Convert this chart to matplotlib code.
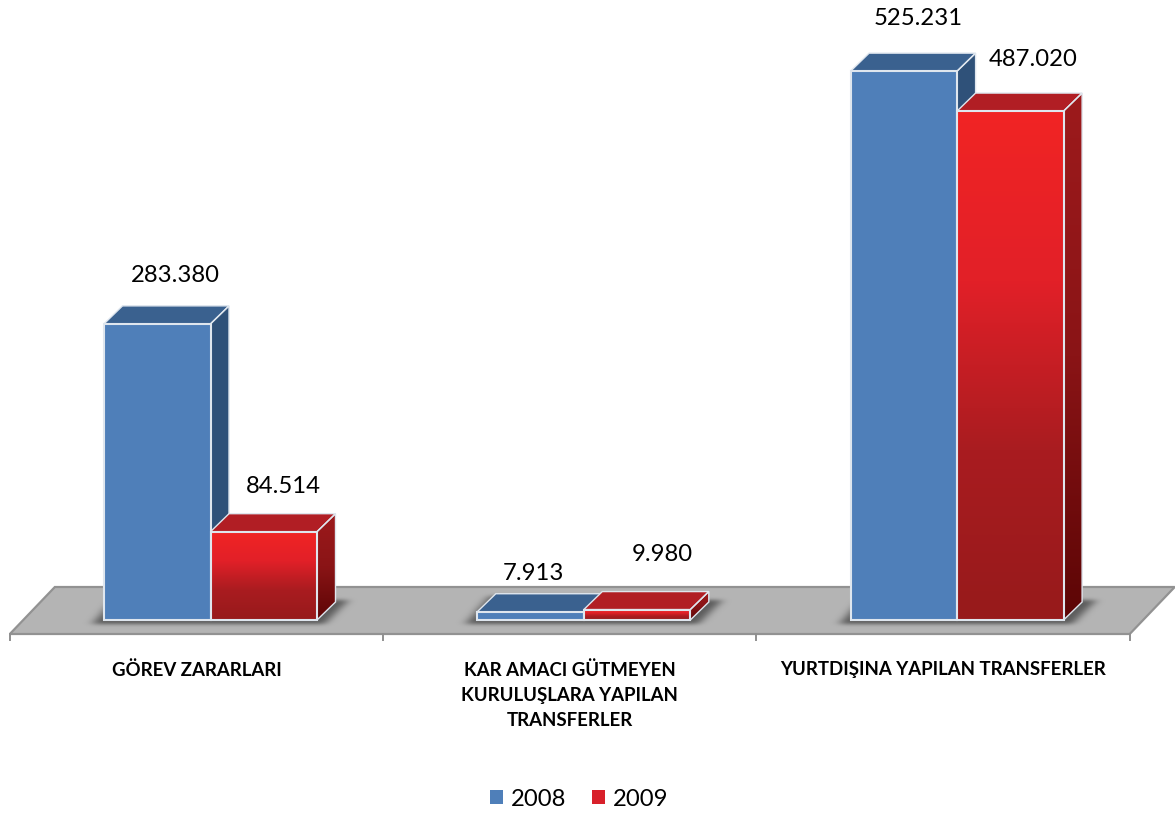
import numpy as np
import matplotlib
matplotlib.use("Agg")
import matplotlib.pyplot as plt
from matplotlib.patches import Polygon, Patch
from matplotlib.path import Path
from matplotlib.colors import LinearSegmentedColormap

categories = ["GÖREV ZARARLARI", "KAR AMACI GÜTMEYEN\nKURULUŞLARA YAPILAN\nTRANSFERLER",
              "YURTDIŞINA YAPILAN TRANSFERLER"]
series_names = ["2008", "2009"]
values_2008 = [283380, 7913, 525231]
values_2009 = [84514, 9980, 487020]
labels_2008 = ["283.380", "7.913", "525.231"]
labels_2009 = ["84.514", "9.980", "487.020"]
label_off_2008 = [(18, 48), (3, 38), (14, 53)]
label_off_2009 = [(20, 45), (25, 55), (23, 52)]

W, H = 1175, 814
PX_X = 373.3      # pixels per category
PX_Y = 1.045e-3   # pixels per value unit
X0, Y0 = 210.5, 620

plt.rcParams['font.family'] = ['Lato', 'DejaVu Sans']
fig = plt.figure(figsize=(W / 100, H / 100), dpi=100)
ax = fig.add_axes([0, 0, 1, 1])
ax.axis('off')
xlim = (-X0 / PX_X, (W - X0) / PX_X)
ylim = ((Y0 - H) / PX_Y, Y0 / PX_Y)

DX, DY = 18.5 / PX_X, 18 / PX_Y      # depth of the bars
BW = 106.5 / PX_X                    # bar width
EDGE = '#dfe6ee'

blue_front, blue_top, blue_side = '#4f7fb9', '#3a618f', '#2f5179'
red_top = '#b11e24'
red_front = LinearSegmentedColormap.from_list('rf', ['#f12424', '#e22028', '#a91c20', '#971a1b'])
red_side = LinearSegmentedColormap.from_list('rs', ['#9d1a1c', '#8a1416', '#5c0505'])


def grad(cmap, poly, x0, x1, y0, y1, z):
    g = np.linspace(0, 1, 256)[:, None]
    p = Polygon(poly, closed=True, transform=ax.transData, fc='none', ec='none')
    ax.add_patch(p)
    im = ax.imshow(g, cmap=cmap, aspect='auto', extent=(x0, x1, y0, y1), origin='upper',
                   zorder=z, interpolation='bilinear')
    im.set_clip_path(p)


def outline(poly, z, lw=1.4):
    ax.add_patch(Polygon(poly, closed=True, fc='none', ec=EDGE, lw=lw, zorder=z, joinstyle='miter'))


def bar(x, v, kind, z):
    l, r = x, x + BW
    front = [(l, 0), (r, 0), (r, v), (l, v)]
    top = [(l, v), (r, v), (r + DX, v + DY), (l + DX, v + DY)]
    side = [(r, 0), (r + DX, DY), (r + DX, v + DY), (r, v)]
    if kind == 0:
        ax.add_patch(Polygon(side, fc=blue_side, ec='none', zorder=z))
        ax.add_patch(Polygon(top, fc=blue_top, ec='none', zorder=z))
        ax.add_patch(Polygon(front, fc=blue_front, ec='none', zorder=z + .2))
    else:
        grad(red_side, side, r, r + DX, 0, v + DY, z)
        ax.add_patch(Polygon(top, fc=red_top, ec='none', zorder=z))
        grad(red_front, front, l, r, 0, v, z + .2)
    outline(side, z + .1, 1.0)
    outline(top, z + .1, 1.0)
    outline(front, z + .3, 1.5)


# floor
fl, fr = -0.5 - 14 / PX_X, 2.5 - 14 / PX_X
fy0, fy1 = -14 / PX_Y, 33 / PX_Y
fdx = 45 / PX_X
floor = Polygon([(fl, fy0), (fr, fy0), (fr + fdx, fy1), (fl + fdx, fy1)], closed=True,
                fc='#b4b4b4', ec='#929292', lw=1.6, zorder=1)
ax.add_patch(floor)
for k in range(4):
    ax.plot([fl + k, fl + k], [fy0, fy0 - 6 / PX_Y], color='#8f8f8f', lw=1.4, zorder=1)


# soft shadow on the floor beneath each bar pair
def shadow(x):
    l, r = x - BW, x + BW
    xs = np.linspace(l - 45 / PX_X, r + 60 / PX_X, 240)
    ys = np.linspace(-12 / PX_Y, 36 / PX_Y, 96)
    XX, YY = np.meshgrid(xs, ys)
    poly = Path([(l - 12 / PX_X, -4 / PX_Y), (r + 8 / PX_X, -4 / PX_Y),
                 (r + 32 / PX_X, 20 / PX_Y), (l + 12 / PX_X, 24 / PX_Y)])
    m = poly.contains_points(np.c_[XX.ravel(), YY.ravel()]).reshape(XX.shape).astype(float)
    k = np.exp(-np.linspace(-2.2, 2.2, 23) ** 2)
    k /= k.sum()
    for axis in (0, 1):
        m = np.apply_along_axis(lambda a: np.convolve(a, k, mode='same'), axis, m)
    rgba = np.zeros(m.shape + (4,))
    rgba[..., :3] = 0.22
    rgba[..., 3] = np.clip(m * 1.0, 0, 1) * 0.72
    im = ax.imshow(rgba, extent=(xs[0], xs[-1], ys[0], ys[-1]), origin='lower', aspect='auto',
                   zorder=2, interpolation='bilinear')
    im.set_clip_path(floor)


for i in range(3):
    shadow(i)
    bar(i - BW, values_2008[i], 0, 5)
    bar(i, values_2009[i], 1, 6)
    for j, (vals, labs, offs) in enumerate(((values_2008, labels_2008, label_off_2008),
                                            (values_2009, labels_2009, label_off_2009))):
        cx = i + (-BW / 2 if j == 0 else BW / 2)
        ax.annotate(labs[i], (cx, vals[i]), xytext=(offs[i][0] * .72, offs[i][1] * .72),
                    textcoords='offset points', ha='center', va='center', fontsize=17.2,
                    color='black', zorder=10)
    ax.text(i - 14 / PX_X, -41 / PX_Y, categories[i], ha='center', va='top', fontsize=13.4,
            fontweight='bold', color='black', linespacing=1.58, zorder=10)

ax.set_xlim(xlim)
ax.set_ylim(ylim)

handles = [Patch(fc=blue_front, ec='none'), Patch(fc='#d8202a', ec='none')]
ax.legend(handles, series_names, loc='center', bbox_to_anchor=(579 / W, 1 - 799 / H), ncol=2,
          frameon=False, fontsize=17.2, handlelength=0.55, handleheight=0.55, handletextpad=0.32,
          columnspacing=1.1, borderpad=0)

fig.savefig('out.png', dpi=100, facecolor='white')
